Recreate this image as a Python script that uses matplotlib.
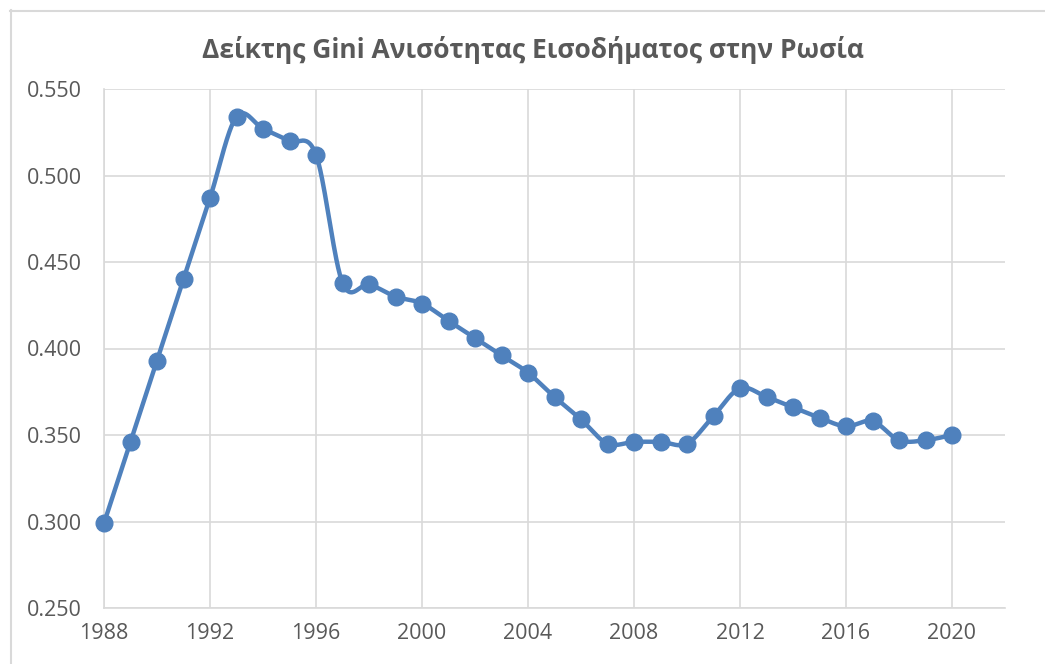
"""Gini index of income inequality in Russia, Excel-style smoothed line chart"""

import numpy as np
from matplotlib import pyplot as plt
from matplotlib.lines import Line2D


years = list(range(1988, 2021))
gini = [
    0.299, 0.346, 0.393, 0.440, 0.487, 0.534, 0.527, 0.520, 0.512, 0.438,
    0.437, 0.430, 0.426, 0.416, 0.406, 0.396, 0.386, 0.372, 0.359, 0.345,
    0.346, 0.346, 0.345, 0.361, 0.377, 0.372, 0.366, 0.360, 0.355, 0.358,
    0.347, 0.347, 0.350,
]
year_ticks = list(range(1988, 2021, 4))
gini_ticks = [0.250, 0.300, 0.350, 0.400, 0.450, 0.500, 0.550]
title = "Δείκτης Gini Ανισότητας Εισοδήματος στην Ρωσία"

BLUE = "#4f81bd"
GRID = "#d9d9d9"
TEXT = "#595959"


def smooth_curve(x_vals, y_vals, steps=30):
    """Catmull-Rom spline through the points, like Excel's smoothed line"""
    x_vals = np.asarray(x_vals, dtype=float)
    y_vals = np.asarray(y_vals, dtype=float)
    pts = np.column_stack([x_vals, y_vals])
    pts = np.vstack([pts[0], pts, pts[-1]])
    out = []
    t = np.linspace(0, 1, steps, endpoint=False)[:, None]
    for i in range(1, len(pts) - 2):
        p0, p1, p2, p3 = pts[i - 1], pts[i], pts[i + 1], pts[i + 2]
        m1 = (p2 - p0) / 6
        m2 = (p3 - p1) / 6
        b0, b1, b2, b3 = p1, p1 + m1, p2 - m2, p2
        seg = (
            (1 - t) ** 3 * b0
            + 3 * (1 - t) ** 2 * t * b1
            + 3 * (1 - t) * t ** 2 * b2
            + t ** 3 * b3
        )
        out.append(seg)
    out.append(pts[-2][None, :])
    out = np.vstack(out)
    return out[:, 0], out[:, 1]


plt.rcParams["font.family"] = ["Open Sans", "DejaVu Sans"]

fig = plt.figure(figsize=(10.45, 6.64), dpi=100)
axis = fig.add_axes([104 / 1045, 56 / 664, 901 / 1045, 519 / 664])

sx, sy = smooth_curve(years, gini)
axis.plot(sx, sy, color=BLUE, lw=3.2, solid_capstyle="round", zorder=3, clip_on=False)
axis.plot(years, gini, "o", color=BLUE, markersize=12, zorder=4, clip_on=False)

axis.set_xlim(1988, 2022)
axis.set_ylim(0.25, 0.55)
axis.set_xticks(year_ticks)
axis.set_yticks(gini_ticks)
axis.set_yticklabels([f"{v:.3f}" for v in gini_ticks])
axis.tick_params(length=0, labelsize=15.5, labelcolor=TEXT)
axis.tick_params(axis="y", pad=16)
axis.tick_params(axis="x", pad=11)
axis.grid(True, color=GRID, lw=1.2, zorder=0)
axis.set_axisbelow(True)
for side in ("top", "right"):
    axis.spines[side].set_visible(False)
for side in ("left", "bottom"):
    axis.spines[side].set_color(GRID)
    axis.spines[side].set_linewidth(1.2)

fig.text(533 / 1045, 1 - 50 / 664, title, ha="center", va="center",
         fontsize=19, fontweight="bold", color=TEXT)

# chart-area border (only left and top edges fall inside the image)
fig.add_artist(Line2D([10.5 / 1045, 10.5 / 1045], [0, 1 - 10 / 664],
                      color=GRID, lw=1.5, transform=fig.transFigure))
fig.add_artist(Line2D([10 / 1045, 1], [1 - 10.5 / 664, 1 - 10.5 / 664],
                      color=GRID, lw=1.5, transform=fig.transFigure))

fig.savefig("out.png", dpi=100)
